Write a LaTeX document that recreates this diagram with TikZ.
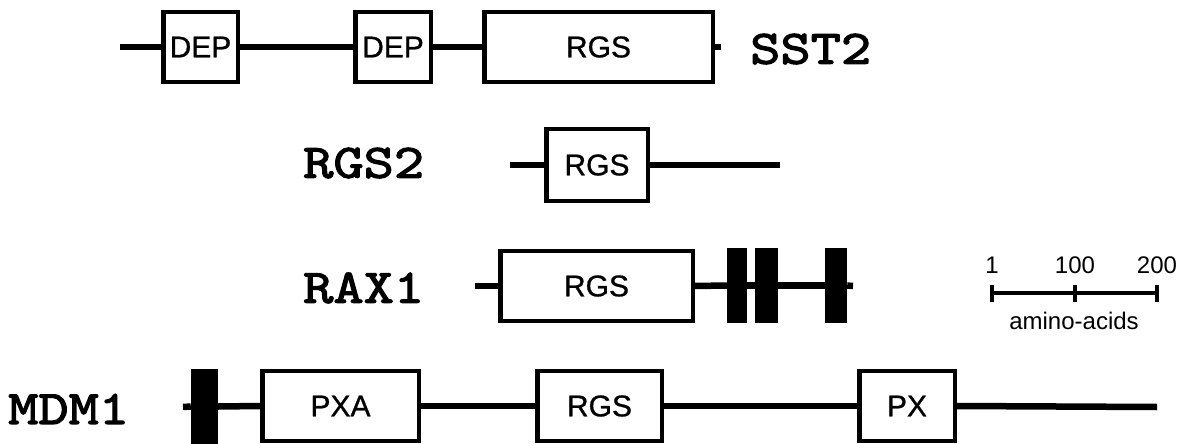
\documentclass[tikz,border=0pt]{standalone}
\usepackage{fontspec}
\setmainfont{Liberation Sans}
\newfontfamily\labfont{Liberation Sans}[FakeBold=0.8]
\newfontfamily\protfont{lmmono10-regular.otf}[FakeBold=2.5, FakeStretch=1.2]
\begin{document}
\begin{tikzpicture}[x=1pt,y=-1pt,
  bb/.style={line width=6.5pt},
  dom/.style={draw, line width=4.5pt, fill=white, inner sep=0pt, minimum height=70pt,
    font=\fontsize{30}{30}\labfont},
  bar/.style={fill=black, inner sep=0pt, minimum height=75pt},
  pname/.style={anchor=west, inner sep=0pt, font=\fontsize{48}{48}\protfont},
  scl/.style={line width=4pt},
  slab/.style={inner sep=0pt, font=\fontsize{24}{24}\selectfont}]
\useasboundingbox (0,0) rectangle (1188,444);
% SST2
\coordinate (s0) at (120,47);
\coordinate (s9) at (721,47);
\node[dom, minimum width=74.5pt] (sdep1) at (200.5,47) {DEP};
\node[dom, minimum width=75.5pt] (sdep2) at (393,47) {DEP};
\node[dom, minimum width=228.5pt] (srgs) at (598.5,47) {RGS};
\draw[bb] (s0) -- (sdep1.west);
\draw[bb] (sdep1.east) -- (sdep2.west);
\draw[bb] (sdep2.east) -- (srgs.west);
\draw[bb] (srgs.east) -- (s9);
\node[pname] (nsst) at (750,49) {SST2};
% RGS2
\coordinate (g0) at (510,165);
\coordinate (g9) at (780,165);
\node[dom, minimum width=101.5pt, minimum height=72pt] (grgs) at (597,165) {RGS};
\draw[bb] (g0) -- (grgs.west);
\draw[bb] (grgs.east) -- (g9);
\node[pname] (nrgs) at (303,163) {RGS2};
% RAX1
\coordinate (r0) at (475,286);
\coordinate (r9) at (853,286);
\node[dom, minimum width=192.5pt] (rrgs) at (596.5,286) {RGS};
\node[bar, minimum width=20pt] (rb1) at (737,285.5) {};
\node[bar, minimum width=23pt] (rb2) at (766.5,285.5) {};
\node[bar, minimum width=22pt] (rb3) at (836,285.5) {};
\draw[bb] (r0) -- (rrgs.west);
\draw[bb] (rrgs.east) -- (rb1.west);
\draw[bb] (rb1.east) -- (rb2.west);
\draw[bb] (rb2.east) -- (rb3.west);
\draw[bb] (rb3.east) -- (r9);
\node[pname] (nrax) at (303,288) {RAX1};
% MDM1
\coordinate (m0) at (183,407);
\coordinate (m9) at (1157,407);
\node[bar, minimum width=27pt] (mb1) at (204.5,406.5) {};
\node[dom, minimum width=156.5pt] (mpxa) at (340.5,406) {PXA};
\node[dom, minimum width=124.5pt] (mrgs) at (599.5,406) {RGS};
\node[dom, minimum width=95.5pt] (mpx) at (907,406) {PX};
\draw[bb] (m0) -- (mb1.west);
\draw[bb] (mb1.east) -- (mpxa.west);
\draw[bb] (mpxa.east) -- (mrgs.west);
\draw[bb] (mrgs.east) -- (mpx.west);
\draw[bb] (mpx.east) -- (m9);
\node[pname] (nmdm) at (8,409) {MDM1};
% scale
\coordinate (k0) at (992,293);
\coordinate (k1) at (1075,293);
\coordinate (k2) at (1157,293);
\draw[scl] (k0) -- (k1) -- (k2);
\foreach \k in {k0,k1,k2} \draw[scl] ([yshift=-8.5pt]\k) -- ([yshift=8.5pt]\k);
\node[slab] (l1) at (992,265) {1};
\node[slab] (l100) at (1075,265) {100};
\node[slab] (l200) at (1157,265) {200};
\node[slab] (laa) at (1074,321) {amino-acids};
\end{tikzpicture}
\end{document}
